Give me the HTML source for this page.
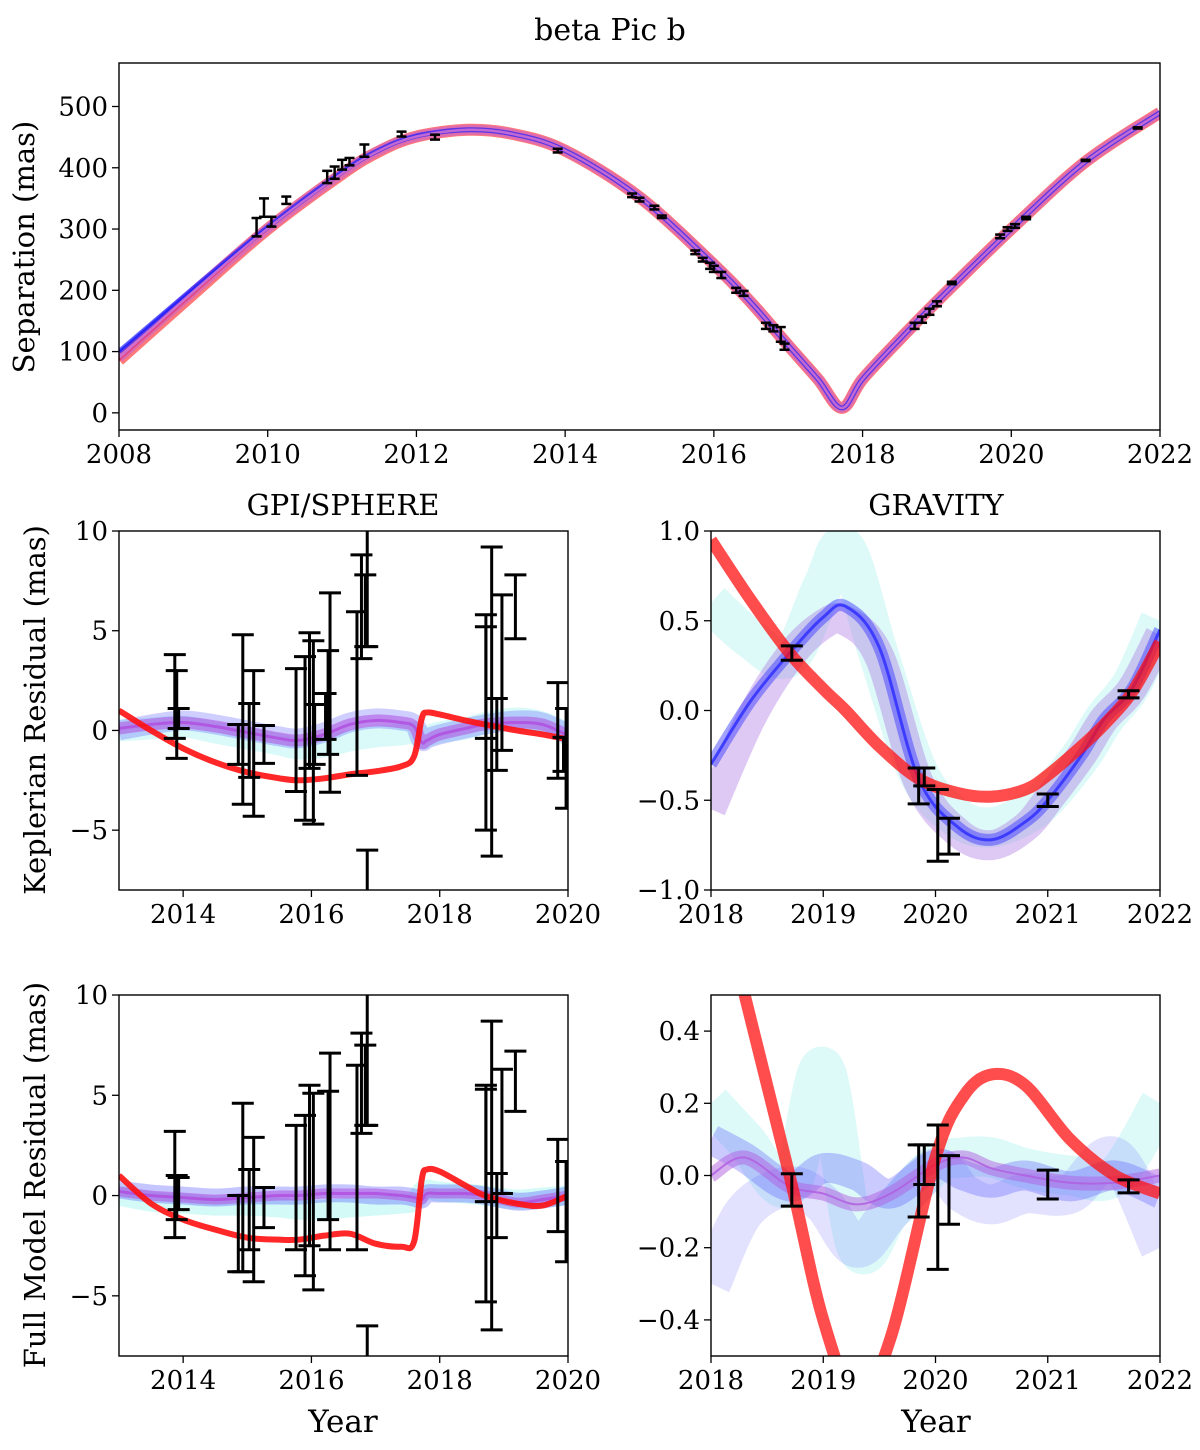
<!DOCTYPE html>
<html><head><meta charset="utf-8">
<style>
body{margin:0;background:#fff;}
svg text{font-family:"DejaVu Serif","Liberation Serif",serif;fill:#000;}
</style></head>
<body>
<svg id="fig" width="1200" height="1445" viewBox="0 0 1200 1445" xmlns="http://www.w3.org/2000/svg">
<rect width="1200" height="1445" fill="#fff"/>
<text x="610" y="40" font-size="30" text-anchor="middle">beta Pic b</text>
</svg>
<script>
// ---------- DATA ----------
const sepYears=[2008,2009,2010,2011,2011.5,2012,2012.7,2013.3,2014,2015,2016,2016.5,2017,2017.4,2017.72,2018,2018.5,2019,2020,2021,2022];
const sepRed=[86,194,300,390,427,451,462,455,428,352,242,180,110,55,8,55,120,182,300,410,490];
const sepBlue=[100,203,303,393,429,452,462,455,428,352,242,180,110,55,8,55,120,182,300,410,490];
const sepViolet=[90,198,301,391,428,451,462,455,428,352,242,180,110,55,8,55,120,182,300,410,490];
const obsYears=[2009.85,2009.95,2010.05,2010.25,2010.8,2010.9,2011.0,2011.1,2011.3,2011.8,2012.25,2013.9,2014.9,2015.0,2015.2,2015.3,2015.75,2015.85,2015.95,2016.0,2016.1,2016.3,2016.4,2016.7,2016.8,2016.9,2016.95,2018.7,2018.8,2018.9,2019.0,2019.2,2019.85,2019.95,2020.05,2020.2,2021.0,2021.7];
const obsSep=[303,335,312,347,385,392,405,410,428,455,450,428,355,348,335,320,262,250,240,235,225,200,195,142,138,128,108,142,152,165,178,212,288,300,305,318,412,465];
const obsErr=[15,15,8,6,10,10,8,6,10,4,4,3,3,3,3,2,3,3,5,5,5,4,4,5,5,12,5,5,5,5,4,2,3,3,3,2,1,1];
const xTicksTop=[2008,2010,2012,2014,2016,2018,2020,2022];
const yTicksTop=[0,100,200,300,400,500];

// Keplerian residual GPI/SPHERE
const klYears=[2013,2013.5,2014,2014.5,2015,2015.5,2015.8,2016.2,2016.6,2017,2017.4,2017.6,2017.72,2017.8,2018,2018.4,2018.7,2019.2,2019.6,2020];
const klRed=[1.0,0.0,-0.9,-1.6,-2.1,-2.4,-2.5,-2.4,-2.2,-2.05,-1.8,-1.3,0.6,0.9,0.8,0.5,0.3,0.0,-0.2,-0.45];
const klBlue=[0.0,0.3,0.5,0.3,0.0,-0.3,-0.4,-0.1,0.4,0.6,0.5,0.3,-0.5,-0.4,-0.2,0.1,0.3,0.5,0.4,-0.2];
const klViolet=[0.1,0.3,0.4,0.2,-0.1,-0.4,-0.5,-0.2,0.3,0.5,0.4,0.2,-0.6,-0.5,-0.2,0.1,0.3,0.4,0.3,-0.25];
const klCyan=[0.0,0.1,0.2,-0.1,-0.4,-0.7,-0.9,-0.8,-0.5,-0.3,-0.2,-0.1,-0.4,-0.3,-0.1,0.1,0.35,0.6,0.4,-0.2];
const klObsY=[2013.87,2013.9,2013.93,2014.86,2014.93,2015.03,2015.1,2015.26,2015.76,2015.9,2015.97,2016.03,2016.05,2016.26,2016.29,2016.22,2016.71,2016.78,2016.84,2016.87,2016.87,2018.72,2018.81,2018.72,2018.89,2018.97,2019.18,2019.84,2019.97,2019.93];
const klObsV=[1.7,0.8,0.6,-0.7,0.55,-0.5,-0.65,-0.7,0.02,-0.4,1.5,-0.1,-0.2,1.4,1.9,0.7,1.85,6.2,6.0,10.5,-8.5,0.4,1.45,2.4,-0.2,2.9,6.2,0.0,-1.4,-1.2];
const klObsE=[2.1,2.2,0.5,1.0,4.25,1.85,3.65,0.95,3.08,4.1,3.4,4.6,1.5,2.6,5.0,1.15,4.1,2.6,1.8,6.3,2.5,5.4,7.75,2.8,1.8,3.9,1.6,2.4,2.5,0.85];

// Keplerian residual GRAVITY
const krYears=[2018,2018.35,2018.7,2019.0,2019.2,2019.5,2019.85,2020.2,2020.5,2020.8,2021.0,2021.3,2021.5,2021.75,2022];
const krRed=[0.95,0.62,0.32,0.12,0.0,-0.2,-0.38,-0.46,-0.48,-0.44,-0.36,-0.2,-0.08,0.1,0.38];
const krBlue=[-0.3,0.05,0.32,0.52,0.58,0.35,-0.38,-0.65,-0.72,-0.62,-0.5,-0.25,-0.05,0.12,0.45];
const krViolet=[-0.55,-0.05,0.3,0.48,0.5,0.3,-0.4,-0.68,-0.75,-0.65,-0.5,-0.25,-0.05,0.12,0.42];
const krCyan=[0.6,0.4,0.3,0.7,0.9,0.3,-0.35,-0.6,-0.65,-0.58,-0.48,-0.25,-0.05,0.15,0.5];
const krObsY=[2018.72,2019.85,2019.9,2020.02,2020.12,2021.0,2021.72];
const krObsV=[0.32,-0.42,-0.37,-0.64,-0.7,-0.5,0.09];
const krObsE=[0.04,0.1,0.05,0.2,0.1,0.035,0.02];

// Full model residual GPI/SPHERE
const flRed=[1.0,-0.4,-1.2,-1.7,-2.1,-2.2,-2.2,-2.0,-1.9,-2.4,-2.55,-2.3,0.8,1.3,1.2,0.5,0.0,-0.4,-0.5,0.0];
const flBlue=[0.3,0.1,0.0,-0.1,0.0,0.0,0.0,0.1,0.1,0.0,0.0,-0.1,-0.2,0.1,0.1,0.1,0.0,-0.3,-0.2,0.0];
const flViolet=[0.2,0.0,-0.1,-0.2,-0.1,0.0,0.0,0.1,0.1,0.1,0.0,-0.1,-0.2,0.1,0.1,0.1,0.0,-0.35,-0.2,0.0];
const flCyan=[0.0,-0.3,-0.4,-0.5,-0.5,-0.6,-0.7,-0.7,-0.6,-0.5,-0.4,-0.3,0.2,0.3,0.2,0.1,0.0,-0.2,-0.1,0.0];
const flObsY=[2013.87,2013.9,2013.93,2014.86,2014.93,2015.03,2015.1,2015.26,2015.76,2015.9,2015.97,2016.03,2016.26,2016.29,2016.71,2016.78,2016.84,2016.87,2016.87,2018.72,2018.81,2018.72,2018.89,2018.97,2019.18,2019.84,2019.97];
const flObsV=[0.55,-0.1,0.1,-1.9,0.4,-0.7,-0.7,-0.6,0.4,0.0,1.5,0.2,2.0,2.2,1.9,5.6,5.5,10.5,-8.5,0.1,1.0,2.5,-0.5,3.2,5.7,0.5,-0.8];
const flObsE=[2.65,1.1,0.8,1.9,4.2,2.0,3.6,1.0,3.1,4.0,4.0,4.9,3.2,4.9,4.6,2.5,2.0,7.0,2.0,5.4,7.7,2.8,1.6,3.1,1.5,2.3,2.5];

// Full model residual GRAVITY
const frYears=[2018,2018.3,2018.7,2019.0,2019.3,2019.6,2020.0,2020.25,2020.5,2020.8,2021.2,2021.6,2022];
const frRed=[0.9,0.5,0.0,-0.4,-0.62,-0.45,0.05,0.22,0.28,0.25,0.1,0.0,-0.05];
const frBlue=[0.1,0.05,-0.03,0.02,0.0,-0.05,0.03,0.0,-0.02,0.0,-0.03,0.0,-0.05];
const frViolet=[0.0,0.05,-0.03,-0.05,-0.08,-0.05,0.03,0.05,0.02,0.0,-0.02,-0.02,0.0];
const frCyan=[0.2,0.1,-0.03,0.3,-0.2,-0.1,0.03,0.05,0.05,0.02,0.0,0.0,0.2];
const frBlueLow=[-0.3,-0.1,-0.03,-0.08,-0.2,-0.1,0.02,-0.05,-0.08,-0.05,-0.05,0.05,-0.2];
const frObsY=[2018.72,2019.85,2019.9,2020.02,2020.12,2021.0,2021.72];
const frObsV=[-0.04,-0.015,0.03,-0.06,-0.04,-0.025,-0.03];
const frObsE=[0.045,0.1,0.055,0.2,0.095,0.04,0.018];

const xTicksL=[2014,2016,2018,2020];
const xTicksR=[2018,2019,2020,2021,2022];
const yTicksL=[-5,0,5,10];
const yTicksKR=[-1.0,-0.5,0.0,0.5,1.0];
const yTicksFR=[-0.4,-0.2,0.0,0.2,0.4];

// ---------- DRAW ----------
const NS='http://www.w3.org/2000/svg';
const svg=document.getElementById('fig');
const TF=26;
function mk(tag,attrs,parent){const e=document.createElementNS(NS,tag);for(const k in attrs)e.setAttribute(k,attrs[k]);(parent||svg).appendChild(e);return e;}
let clipId=0;
function makeAxes(o){
  const sx=v=>o.x0+(v-o.xmin)/(o.xmax-o.xmin)*(o.x1-o.x0);
  const sy=v=>o.y1-(v-o.ymin)/(o.ymax-o.ymin)*(o.y1-o.y0);
  const g=mk('g',{});
  
  
  const id='c'+(clipId++);
  const cp=mk('clipPath',{id:id},g);mk('rect',{x:o.x0,y:o.y0,width:o.x1-o.x0,height:o.y1-o.y0},cp);
  const plot=mk('g',{'clip-path':'url(#'+id+')'},g);
  
  
  const frame=mk('rect',{x:o.x0,y:o.y0,width:o.x1-o.x0,height:o.y1-o.y0,fill:'none',stroke:'#000','stroke-width':1.4},g);
  
  
  o.xt.forEach(t=>{const X=sx(t);mk('line',{x1:X,x2:X,y1:o.y1,y2:o.y1+7,stroke:'#000','stroke-width':1.3},g);
    const tx=mk('text',{x:X,y:o.y1+33,'font-size':TF,'text-anchor':'middle'},g);tx.textContent=t;
    
    });
  o.yt.forEach(t=>{const Y=sy(t);mk('line',{x1:o.x0-7,x2:o.x0,y1:Y,y2:Y,stroke:'#000','stroke-width':1.3},g);
    const tx=mk('text',{x:o.x0-11,y:Y+9,'font-size':TF,'text-anchor':'end'},g);tx.textContent=o.fmt?o.fmt(t):String(t).replace('-','\u2212');
    
    });
  return {sx,sy,plot,g};
}
function smooth(pts){
  let d='M'+pts[0][0]+','+pts[0][1];
  for(let i=0;i<pts.length-1;i++){
    const p0=pts[i-1]||pts[i],p1=pts[i],p2=pts[i+1],p3=pts[i+2]||p2;
    const c1=[p1[0]+(p2[0]-p0[0])/6,p1[1]+(p2[1]-p0[1])/6];
    const c2=[p2[0]-(p3[0]-p1[0])/6,p2[1]-(p3[1]-p1[1])/6];
    d+=' C'+c1+' '+c2+' '+p2;
  }
  return d;
}
function band(ax,xs,ys,color,name,w,op,core){
  const pts=xs.map((x,i)=>[ax.sx(x),ax.sy(ys[i])]);
  const d=smooth(pts);
  const b=mk('path',{d:d,fill:'none',stroke:color,'stroke-width':w,'stroke-opacity':op,'stroke-linejoin':'round'},ax.plot);
  
  
  if(core){const c=mk('path',{d:d,fill:'none',stroke:color,'stroke-width':core,'stroke-opacity':0.85},ax.plot);
    
    }
}
function errbars(ax,xs,vs,es,cap,lw){
  xs.forEach((x,i)=>{
    const X=ax.sx(x),Yt=ax.sy(vs[i]+es[i]),Yb=ax.sy(vs[i]-es[i]);
    const g=mk('g',{stroke:'#000','stroke-width':lw},ax.plot);
    
    
    mk('line',{x1:X,x2:X,y1:Yt,y2:Yb},g);
    mk('line',{x1:X-cap,x2:X+cap,y1:Yt,y2:Yt},g);
    mk('line',{x1:X-cap,x2:X+cap,y1:Yb,y2:Yb},g);
  });
}
function label(x,y,txt,size,rot,name){
  const t=mk('text',{x:x,y:y,'font-size':size,'text-anchor':'middle',transform:rot?`rotate(-90 ${x} ${y})`:''});
  t.textContent=txt;
  
  
}

// top
const A=makeAxes({name:'separation-panel',x0:119,x1:1160,y0:63,y1:430,xmin:2008,xmax:2022,ymin:-28,ymax:571,xt:xTicksTop,yt:yTicksTop});
band(A,sepYears,sepRed,'#ff2020','sep-red',12,0.6,2);
band(A,sepYears,sepViolet,'#c060e0',"sep-violet",10,0.5,0);
band(A,sepYears,sepBlue,'#2020ff','sep-blue',5,0.7,2);
band(A,sepYears,sepViolet,'#d070d0','sep-mean',2.5,0.9,0);
errbars(A,obsYears,obsSep,obsErr,5,2.5);
label(34,247,'Separation (mas)',29,true,'y-axis-title-separation');

// middle left
const B=makeAxes({name:'keplerian-gpi-panel',x0:119,x1:568,y0:531,y1:890,xmin:2013,xmax:2020,ymin:-8,ymax:10,xt:xTicksL,yt:yTicksL});
band(B,klYears,klCyan,'#80f0e8','kl-cyan',22,0.3,0);
band(B,klYears,klBlue,'#4040ff','kl-blue',20,0.25,0);
band(B,klYears,klViolet,'#b050e0','kl-violet',12,0.55,3);
band(B,klYears,klRed,'#ff1010','kl-red',6,0.9,0);
errbars(B,klObsY,klObsV,klObsE,11,3);
label(343,515,'GPI/SPHERE',29,false,'title-gpi-sphere');
label(45,710,'Keplerian Residual (mas)',29,true,'y-axis-title-keplerian');

// middle right
const C=makeAxes({name:'keplerian-gravity-panel',x0:711,x1:1160,y0:531,y1:890,xmin:2018,xmax:2022,ymin:-1,ymax:1,xt:xTicksR,yt:yTicksKR,fmt:v=>v.toFixed(1).replace('-','\u2212')});
band(C,krYears,krCyan,'#90f0e8','kr-cyan',40,0.3,0);
band(C,krYears,krViolet,'#a060e0','kr-violet',30,0.35,0);
band(C,krYears,krBlue,'#3030ff','kr-blue',12,0.45,3);
band(C,krYears,krRed,'#ff1010','kr-red',12,0.75,0);
errbars(C,krObsY,krObsV,krObsE,11,3);
label(936,515,'GRAVITY',29,false,'title-gravity');

// bottom left
const D=makeAxes({name:'full-model-gpi-panel',x0:119,x1:568,y0:995,y1:1356,xmin:2013,xmax:2020,ymin:-8,ymax:10,xt:xTicksL,yt:yTicksL});
band(D,klYears,flCyan,'#80f0e8','fl-cyan',20,0.35,0);
band(D,klYears,flBlue,'#4040ff','fl-blue',18,0.3,0);
band(D,klYears,flViolet,'#b050e0','fl-violet',10,0.55,3);
band(D,klYears,flRed,'#ff1010','fl-red',6,0.9,0);
errbars(D,flObsY,flObsV,flObsE,11,3);
label(343,1432,'Year',31,false,'x-axis-title-left');
label(45,1175,'Full Model Residual (mas)',29,true,'y-axis-title-full-model');

// bottom right
const E=makeAxes({name:'full-model-gravity-panel',x0:711,x1:1160,y0:995,y1:1356,xmin:2018,xmax:2022,ymin:-0.5,ymax:0.5,xt:xTicksR,yt:yTicksFR,fmt:v=>v.toFixed(1).replace('-','\u2212')});
band(E,frYears,frCyan,'#90f0e8','fr-cyan',40,0.3,0);
band(E,frYears,frBlueLow,'#6060ff','fr-blue-low',40,0.18,0);
band(E,frYears,frBlue,'#5050ff','fr-blue',30,0.3,0);
band(E,frYears,frViolet,'#b060e0','fr-violet',14,0.5,2);
band(E,frYears,frRed,'#ff1010','fr-red',12,0.75,0);
errbars(E,frObsY,frObsV,frObsE,11,3);
label(936,1432,'Year',31,false,'x-axis-title-right');
</script>
</body></html>
